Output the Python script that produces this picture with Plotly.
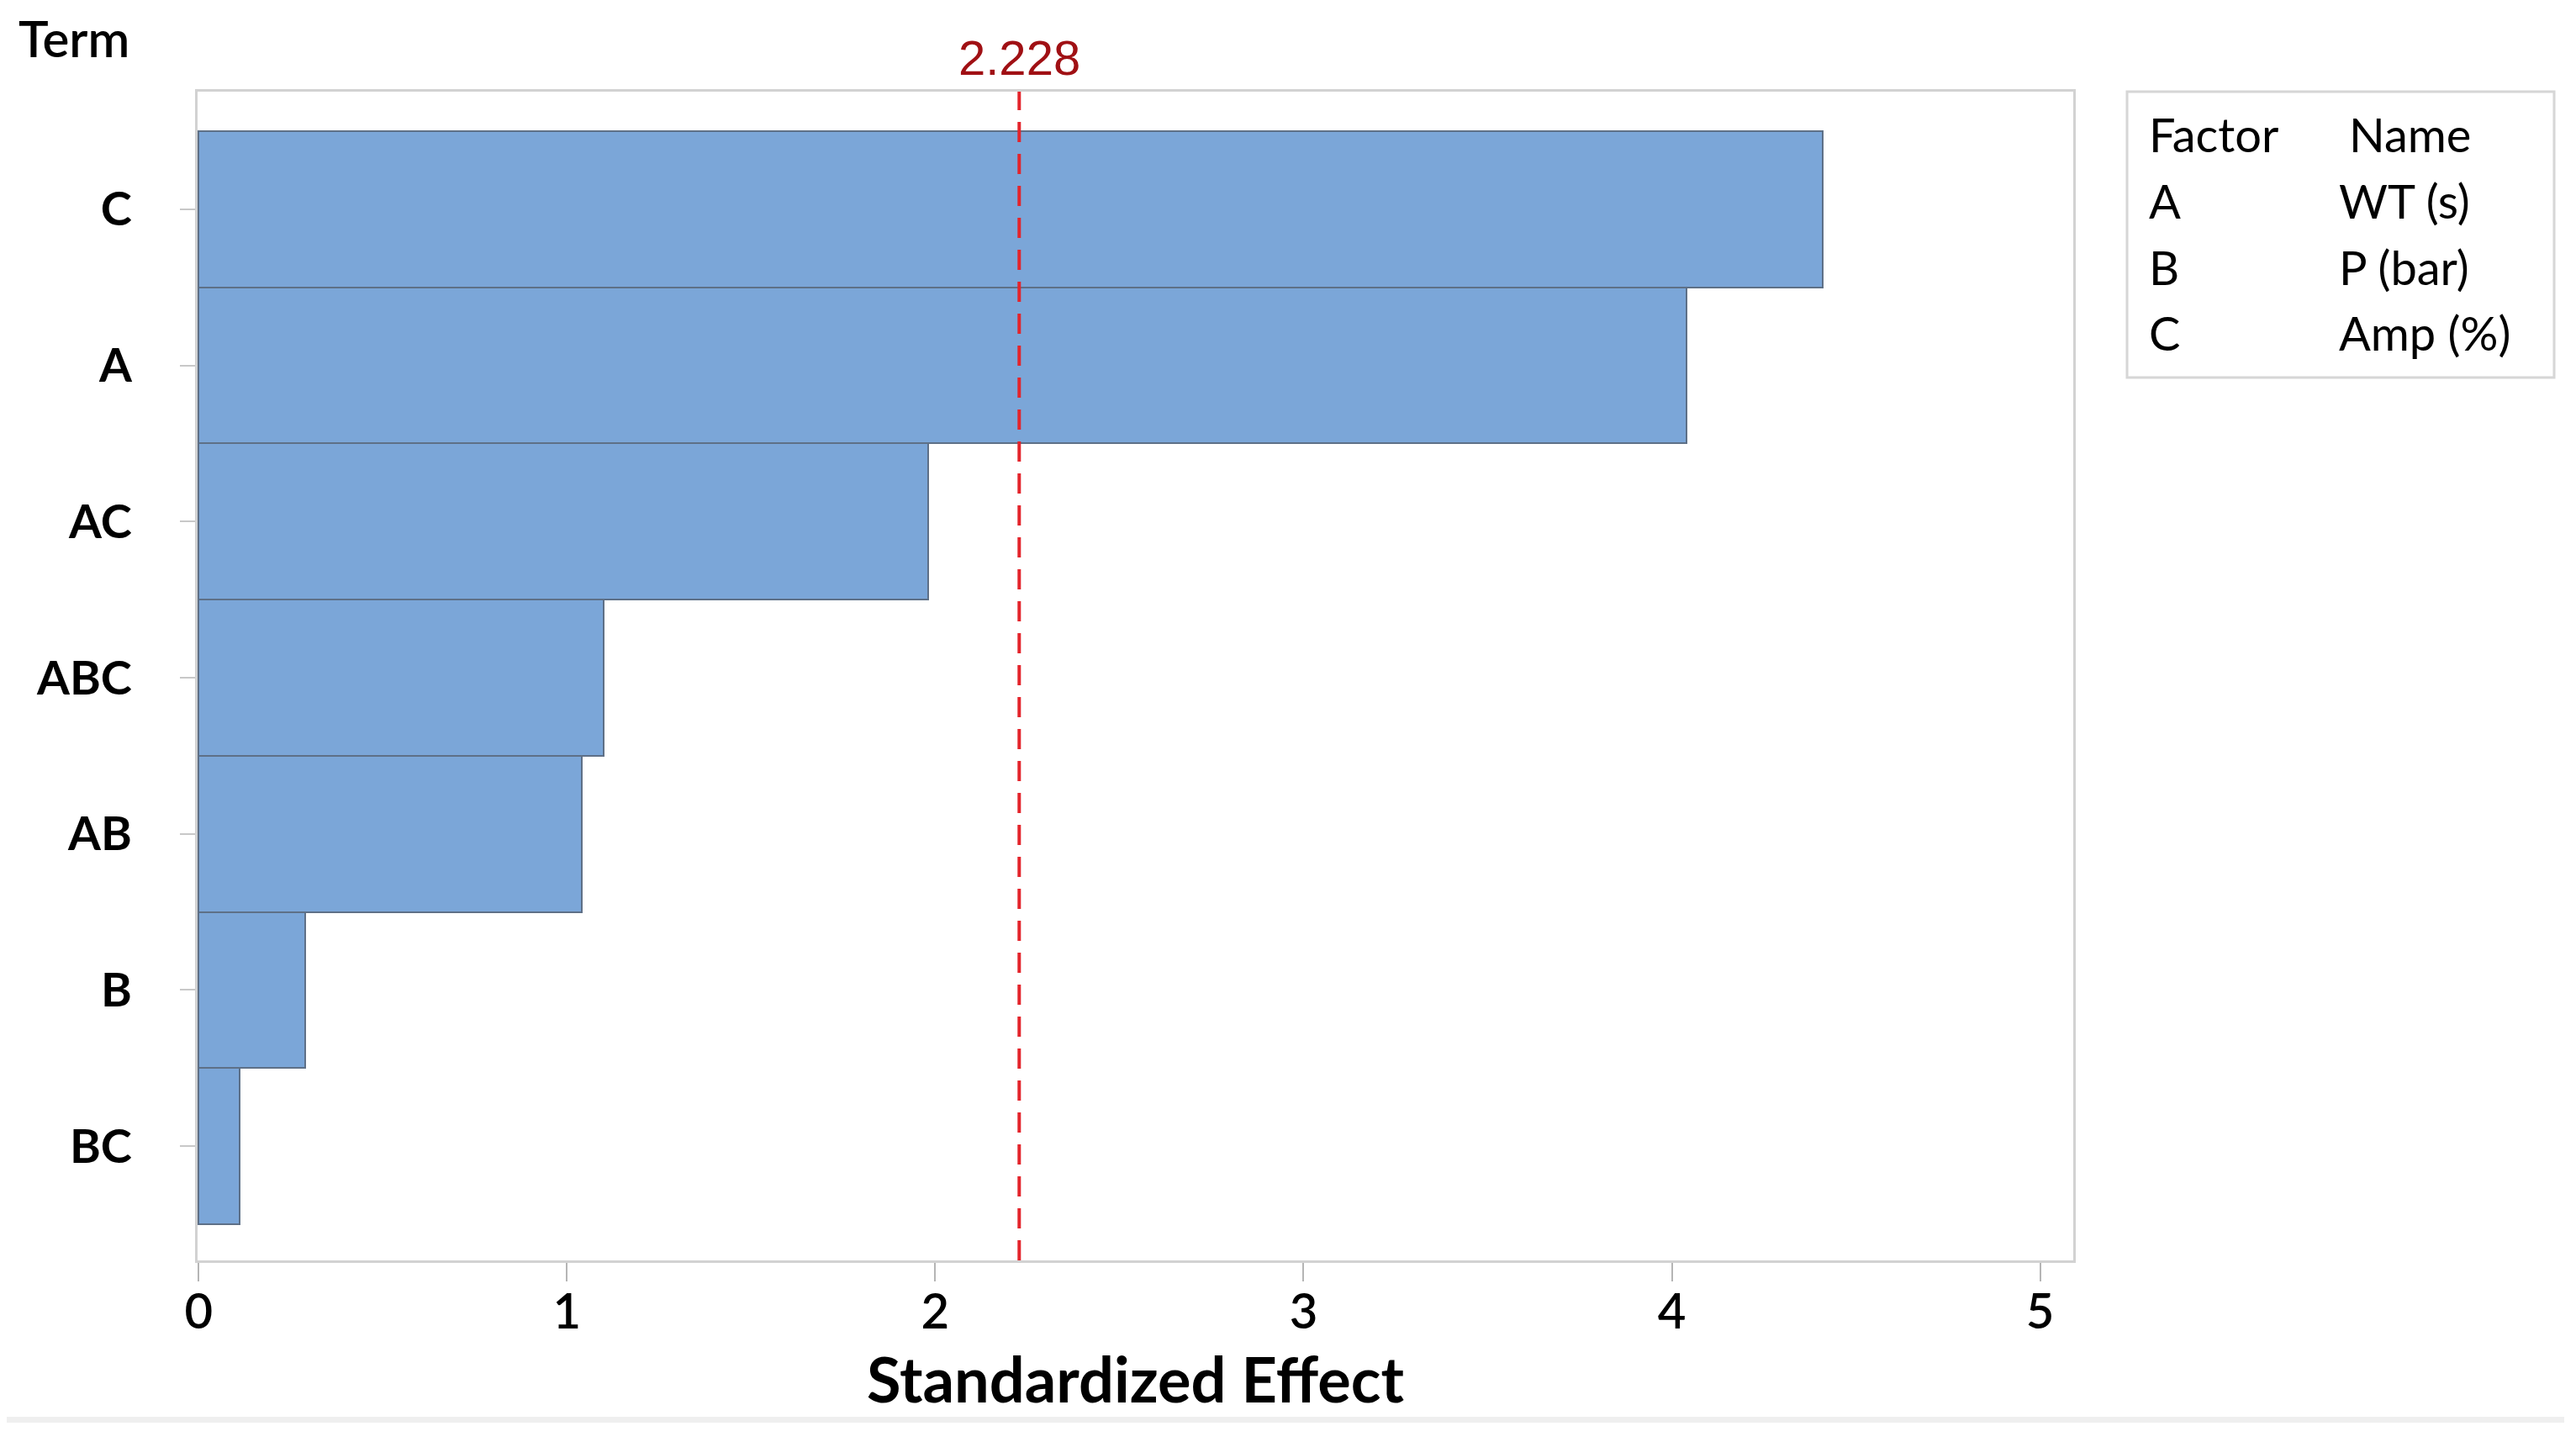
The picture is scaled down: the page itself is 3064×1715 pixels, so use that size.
import plotly.graph_objects as go

# Data (top to bottom in the chart: C, A, AC, ABC, AB, B, BC)
terms = ["BC", "B", "AB", "ABC", "AC", "A", "C"]
effects = [0.11, 0.29, 1.04, 1.10, 1.98, 4.04, 4.41]
ref_value = 2.228
ref_label = "2.228"
x_ticks = [0, 1, 2, 3, 4, 5]
factor_letters = ["A", "B", "C"]
factor_names = ["WT (s)", "P (bar)", "Amp (%)"]

OFF = 8  # default page body margin
W, H = 3064 - 2 * OFF, 1715 - 2 * OFF
L, R, T, B = 235 - OFF, 2466 - OFF, 109 - OFF, 1499 - OFF  # plot area in figure pixels
pw, ph = R - L, B - T

def px(x):
    return (x - OFF - L) / pw

def py(y):
    return (B - (y - OFF)) / ph

positions = list(range(len(terms)))

fig = go.Figure()
fig.add_trace(go.Bar(
    y=positions, x=effects, orientation="h",
    marker=dict(color="#7BA6D8", line=dict(color="#5E7087", width=2)),
    width=1.0, showlegend=False, hoverinfo="x+y",
))

font_main = "Lato, 'Open Sans', sans-serif"

fig.update_layout(
    width=W, height=H,
    margin=dict(l=L, r=W - R, t=T, b=H - B, pad=0),
    paper_bgcolor="white", plot_bgcolor="white",
    bargap=0,
    font=dict(family=font_main, color="black"),
    xaxis=dict(
        range=[-0.003, 5.09], tickvals=x_ticks, ticktext=[str(v) for v in x_ticks],
        showgrid=False, zeroline=False,
        showline=True, linecolor="#d2d2d2", linewidth=3, mirror=True,
        ticks="outside", ticklen=22, tickwidth=1.5, tickcolor="#b5b5b5",
        tickfont=dict(size=58, family=font_main, color="black", weight=600),
        ticklabelstandoff=-14,
        title=dict(text="<b>Standardized Effect</b>", font=dict(size=74, family=font_main, color="black"), standoff=26),
    ),
    yaxis=dict(
        range=[-0.732, 6.753], tickvals=positions, ticktext=["<b>%s</b>" % t for t in terms],
        showgrid=False, zeroline=False,
        showline=True, linecolor="#d2d2d2", linewidth=3, mirror=True,
        ticks="outside", ticklen=18, tickwidth=2, tickcolor="#c8c8c8",
        tickfont=dict(size=56, family=font_main, color="black"),
        ticklabelstandoff=46,
    ),
)

# Reference line
fig.add_shape(type="line", xref="x", yref="paper", x0=ref_value, x1=ref_value, y0=0, y1=1,
              line=dict(color="#E3242B", width=4, dash="24px,14px"), layer="above")
fig.add_annotation(x=ref_value, y=py(68), xref="x", yref="paper", text=ref_label,
                   showarrow=False, font=dict(size=58, family="'Liberation Sans', Arial, sans-serif", color="#A01014"),
                   xanchor="center", yanchor="middle")

# "Term" axis title
fig.add_annotation(x=px(20), y=py(45), xref="paper", yref="paper", text="Term", showarrow=False,
                   font=dict(size=60, family=font_main, color="black", weight=600), xanchor="left", yanchor="middle")

# Factor table box
fig.add_shape(type="rect", xref="paper", yref="paper", x0=px(2530), x1=px(3038), y0=py(449), y1=py(109),
              line=dict(color="#d6d6d6", width=3), fillcolor="white")
fig.add_annotation(x=px(2554), y=py(160), xref="paper", yref="paper", text="Factor", showarrow=False,
                   font=dict(size=56, family=font_main, color="black"), xanchor="left", yanchor="middle")
fig.add_annotation(x=px(2792), y=py(160), xref="paper", yref="paper", text="Name", showarrow=False,
                   font=dict(size=56, family=font_main, color="black"), xanchor="left", yanchor="middle")
row_y = [238, 317, 395]
for letter, name, yy in zip(factor_letters, factor_names, row_y):
    fig.add_annotation(x=px(2554), y=py(yy), xref="paper", yref="paper", text=letter, showarrow=False,
                       font=dict(size=56, family=font_main, color="black"), xanchor="left", yanchor="middle")
    fig.add_annotation(x=px(2780), y=py(yy), xref="paper", yref="paper", text=name, showarrow=False,
                       font=dict(size=56, family=font_main, color="black"), xanchor="left", yanchor="middle")

# faint bottom band
fig.add_shape(type="rect", xref="paper", yref="paper", x0=px(8), x1=px(3050), y0=py(1692), y1=py(1685),
              line=dict(width=0), fillcolor="#efefef")

fig.write_html("out.html")
